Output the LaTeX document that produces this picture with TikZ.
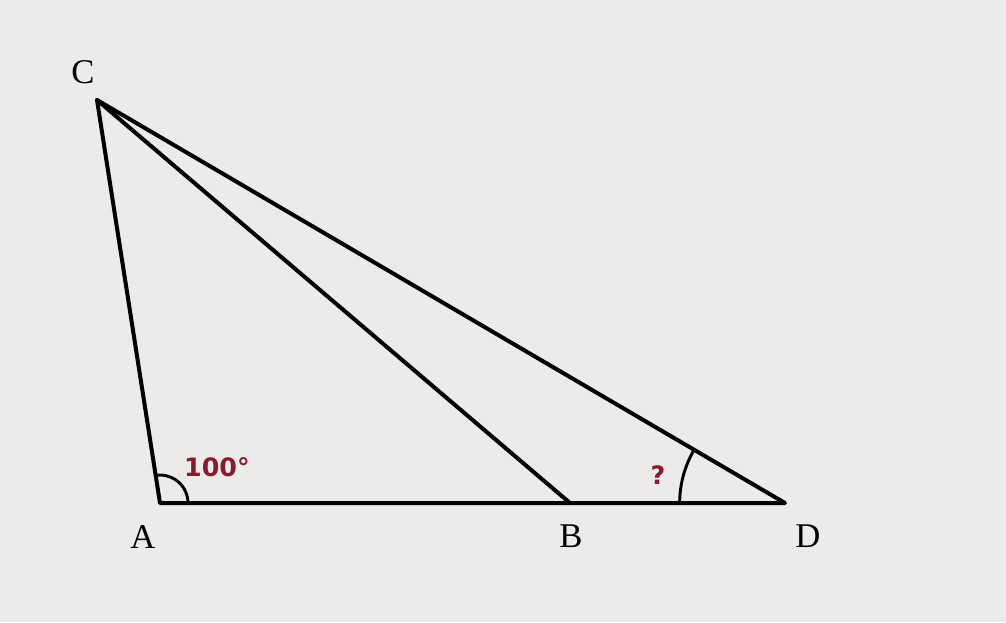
\documentclass[tikz,border=0pt]{standalone}
\usepackage{amsmath,amssymb}
\usepackage{tikz}
\usepackage{fontspec}
\setmainfont{Liberation Serif}
\newfontfamily\labelsans{DejaVu Sans}
\definecolor{paper}{HTML}{ECEBE9}
\definecolor{anglered}{HTML}{8A1A2E}

\begin{document}
\begin{tikzpicture}[line cap=round, line join=round, x=0.75pt, y=-0.75pt]

                \fill[paper] (0,0) rectangle (1006,622);
                \useasboundingbox (0,0) rectangle (1006,622);

                \coordinate (C) at (97,100);
                \coordinate (A) at (160,503);
                \coordinate (B) at (570,503);
                \coordinate (D) at (785,503);

                \draw[line width=3pt] (C) -- (A) -- (D) -- cycle;
                \draw[line width=3pt] (C) -- (B);

                \draw[line width=2.2pt] ([xshift=21pt]A) arc[start angle=0, end angle=99, radius=21pt];
                \draw[line width=2.2pt] ([xshift=-79pt]D) arc[start angle=180, end angle=149.6, radius=79pt];

                \node[font=\fontsize{26}{26}\selectfont] (labC) at (83,72) {C};
                \node[font=\fontsize{26}{26}\selectfont] (labA) at (143,537) {A};
                \node[font=\fontsize{26}{26}\selectfont] (labB) at (571,536) {B};
                \node[font=\fontsize{26}{26}\selectfont] (labD) at (808,536) {D};

                \node[text=anglered, font=\labelsans\bfseries\fontsize{19}{19}\selectfont] (angA) at (217,467) {100°};
                \node[text=anglered, font=\labelsans\bfseries\fontsize{19}{19}\selectfont] (angD) at (658,475) {?};

            \end{tikzpicture}
\end{document}
